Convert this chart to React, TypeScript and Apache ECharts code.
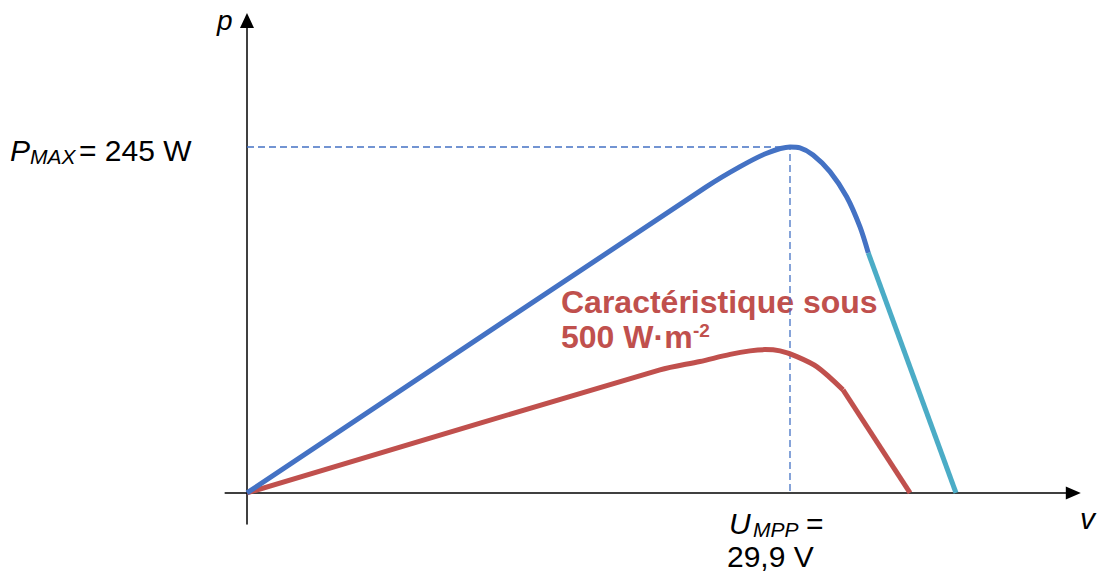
import React, { useEffect, useRef } from "react";
import * as echarts from "echarts";

// P-V characteristic under full irradiance (curved blue part, then steep cyan part)
const blueV = [0, 25.31, 27.15, 28.62, 29.9, 30.45, 31.17, 32.1, 33.02, 33.75, 34.21];
const blueP = [0, 216.9, 231.1, 240.6, 245.0, 244.4, 239.4, 227.6, 209.8, 188.6, 170.0];
const cyanV = [34.21, 39.04];
const cyanP = [170.0, 0];
// P-V characteristic under 500 W/m² (curved part, then straight part)
const redV = [0, 22.74, 24.94, 26.6, 27.7, 28.52, 29.35, 30.18, 31.39, 32.82];
const redP = [0, 87.1, 93.1, 98.1, 100.6, 101.5, 100.6, 97.1, 89.3, 73.0];
const redTailV = [32.82, 36.51];
const redTailP = [73.0, 0];

const P_MAX = 245;
const U_MPP = 29.9;

const zip = (a: number[], b: number[]) => a.map((v, i) => [v, b[i]]);

const FONT = "'Liberation Sans', Arial, sans-serif";
const RED = "#C0504D";
const BLUE = "#4472C4";
const CYAN = "#4BACC6";

export default function App() {
  const ref = useRef<HTMLDivElement>(null);
  useEffect(() => {
    if (!ref.current) return;
    const chart = echarts.init(ref.current, null, { renderer: "svg" });
    const txt = (x: number, y: number, text: string, size: number, extra: any = {}) => ({
      type: "text",
      x,
      y,
      style: {
        text,
        fontSize: size,
        fontFamily: FONT,
        fill: "#000",
        verticalAlign: "middle",
        align: "left",
        ...extra,
      },
    });
    const uText = U_MPP.toFixed(1).replace(".", ",") + " V";
    const line = (data: number[][], color: string, smooth: number | boolean, z: number) => ({
      type: "line",
      data,
      symbol: "none",
      smooth,
      lineStyle: { color, width: 5, cap: "butt", join: "round" },
      z,
    });
    chart.setOption({
      animation: false,
      grid: { left: 225.2, right: 26.7, top: 20.5, bottom: 49 },
      xAxis: {
        type: "value",
        min: -1.2,
        max: 45.5,
        axisLine: {
          show: true,
          symbol: ["none", "triangle"],
          symbolSize: [13, 15],
          lineStyle: { color: "#000", width: 1.5 },
        },
        axisTick: { show: false },
        axisLabel: { show: false },
        splitLine: { show: false },
      },
      yAxis: {
        type: "value",
        min: -22,
        max: 334.6,
        axisLine: {
          show: true,
          symbol: ["none", "triangle"],
          symbolSize: [14, 15],
          lineStyle: { color: "#000", width: 1.5 },
        },
        axisTick: { show: false },
        axisLabel: { show: false },
        splitLine: { show: false },
      },
      series: [
        {
          type: "line",
          data: [[0, P_MAX], [U_MPP, P_MAX], [U_MPP, 0]],
          symbol: "none",
          lineStyle: { color: BLUE, width: 1.3, type: [7, 4] },
          z: 1,
        },
        line(zip(redV, redP), RED, 0.3, 2),
        line(zip(redTailV, redTailP), RED, false, 2),
        line(zip(cyanV, cyanP), CYAN, false, 2),
        line(zip(blueV, blueP), BLUE, 0.3, 3),
      ],
      graphic: [
        txt(10, 150.5, "P", 30, { fontStyle: "italic" }),
        txt(30, 156, "MAX", 21, { fontStyle: "italic" }),
        txt(79, 150.5, "= " + P_MAX + " W", 30),
        txt(729, 523, "U", 30, { fontStyle: "italic" }),
        txt(753, 529, "MPP", 21, { fontStyle: "italic" }),
        txt(806, 523, "=", 30),
        txt(727, 556, uText, 30),
        txt(217, 20, "p", 28, { fontStyle: "italic" }),
        txt(1080, 518, "v", 30, { fontStyle: "italic" }),
        txt(561, 302, "Caractéristique sous", 32, { fontWeight: "bold", fill: RED }),
        txt(561, 337, "500 W·m", 32, { fontWeight: "bold", fill: RED }),
        txt(693, 330, "-2", 19, { fontWeight: "bold", fill: RED }),
      ],
    });
    return () => chart.dispose();
  }, []);
  return (
    <div
      ref={ref}
      style={{ position: "fixed", left: 0, top: 0, width: 1100, height: 573, background: "#fff" }}
    />
  );
}
